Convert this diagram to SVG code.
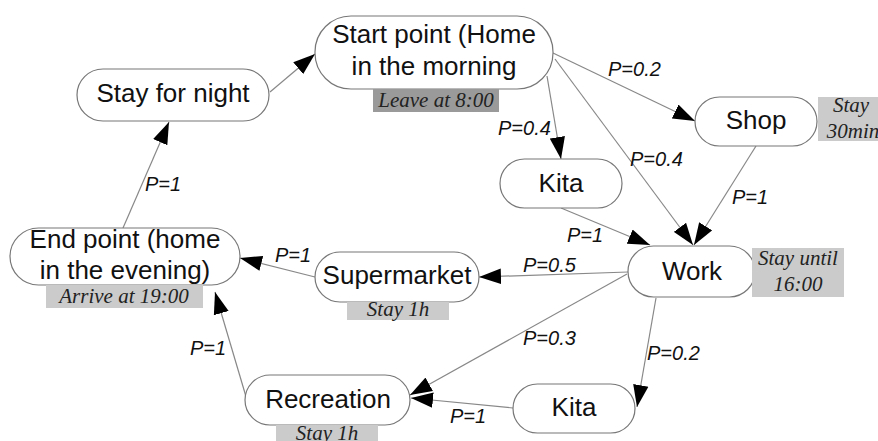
<svg xmlns="http://www.w3.org/2000/svg" width="878" height="441" viewBox="0 0 878 441">
<defs>
<marker id="arr" markerUnits="userSpaceOnUse" markerWidth="22" markerHeight="16" viewBox="0 0 20 14" refX="20" refY="7" orient="auto">
<path d="M0,0 L20,7 L0,14 Z" fill="#000"/>
</marker>
<style>
.node rect{fill:#fff;stroke:#777;stroke-width:1.2}
.node text{font-family:"Liberation Sans",Arial,sans-serif;font-size:26px;fill:#111;text-anchor:middle}
.note rect{stroke:none}
.note text{font-family:"Liberation Serif","Times New Roman",serif;font-style:italic;font-size:21px;fill:#222;text-anchor:middle}
.dark{fill:#9a9a9a}
.light{fill:#cbcbcb}
#edges line{stroke:#888;stroke-width:1.2;marker-end:url(#arr)}
.lbl{font-family:"Liberation Sans",Arial,sans-serif;font-style:italic;font-size:20px;fill:#111}
</style>
</defs>
<rect width="878" height="441" fill="#fff"/>

<g id="edges">
<line x1="123" y1="228" x2="169" y2="122"/>
<line x1="270" y1="92" x2="315" y2="54"/>
<line x1="553" y1="53" x2="695" y2="121"/>
<line x1="547" y1="76" x2="561" y2="159"/>
<line x1="555" y1="59" x2="693" y2="245"/>
<line x1="756" y1="146" x2="694" y2="245"/>
<line x1="561" y1="208" x2="650" y2="245"/>
<line x1="628" y1="272" x2="479" y2="277"/>
<line x1="315" y1="277" x2="240" y2="258"/>
<line x1="627" y1="274" x2="410" y2="395"/>
<line x1="656" y1="298" x2="637" y2="407"/>
<line x1="513" y1="408" x2="411" y2="398"/>
<line x1="247" y1="400" x2="215" y2="292"/>
<text class="lbl" x="145" y="191">P=1</text>
<text class="lbl" x="608" y="76">P=0.2</text>
<text class="lbl" x="498" y="135">P=0.4</text>
<text class="lbl" x="630" y="166">P=0.4</text>
<text class="lbl" x="732" y="204">P=1</text>
<text class="lbl" x="567" y="242">P=1</text>
<text class="lbl" x="523" y="272">P=0.5</text>
<text class="lbl" x="275" y="262">P=1</text>
<text class="lbl" x="523" y="345">P=0.3</text>
<text class="lbl" x="647" y="360">P=0.2</text>
<text class="lbl" x="190" y="355">P=1</text>
<text class="lbl" x="450" y="423">P=1</text>
</g>

<g id="stay-night" class="node">
<rect x="77" y="69" width="192" height="52" rx="26"/>
<text x="173" y="102">Stay for night</text>
</g>

<g id="start" class="node">
<rect x="315" y="16" width="238" height="73" rx="36"/>
<text x="434" y="43">Start point (Home</text>
<text x="434" y="75">in the morning</text>
</g>
<g id="start-note" class="note">
<rect class="dark" x="373" y="89" width="126" height="23"/>
<text x="436" y="107">Leave at 8:00</text>
</g>

<g id="shop" class="node">
<rect x="695" y="97" width="122" height="49" rx="24.5"/>
<text x="756" y="129">Shop</text>
</g>
<g id="shop-note" class="note">
<rect class="light" x="818" y="97" width="70" height="44"/>
<text x="851" y="112">Stay</text>
<text x="853" y="138">30min</text>
</g>

<g id="kita-top" class="node">
<rect x="500" y="159" width="122" height="49" rx="24.5"/>
<text x="561" y="192">Kita</text>
</g>

<g id="work" class="node">
<rect x="628" y="246" width="127" height="51" rx="25.5"/>
<text x="692" y="280">Work</text>
</g>
<g id="work-note" class="note">
<rect class="light" x="752" y="248" width="92" height="49"/>
<text x="798" y="265">Stay until</text>
<text x="798" y="291">16:00</text>
</g>

<g id="supermarket" class="node">
<rect x="315" y="252" width="164" height="50" rx="25"/>
<text x="397" y="284">Supermarket</text>
</g>
<g id="supermarket-note" class="note">
<rect class="light" x="347" y="302" width="102" height="18"/>
<text x="398" y="316">Stay 1h</text>
</g>

<g id="end" class="node">
<rect x="10" y="228" width="230" height="57" rx="28.5"/>
<text x="125" y="248">End point (home</text>
<text x="125" y="279">in the evening)</text>
</g>
<g id="end-note" class="note">
<rect class="light" x="46" y="285" width="157" height="23"/>
<text x="124" y="303">Arrive at 19:00</text>
</g>

<g id="recreation" class="node">
<rect x="245" y="375" width="165" height="50" rx="25"/>
<text x="328" y="408">Recreation</text>
</g>
<g id="recreation-note" class="note">
<rect class="light" x="276" y="425" width="102" height="18"/>
<text x="327" y="440">Stay 1h</text>
</g>

<g id="kita-bottom" class="node">
<rect x="513" y="384" width="122" height="49" rx="24.5"/>
<text x="574" y="416">Kita</text>
</g>
</svg>
